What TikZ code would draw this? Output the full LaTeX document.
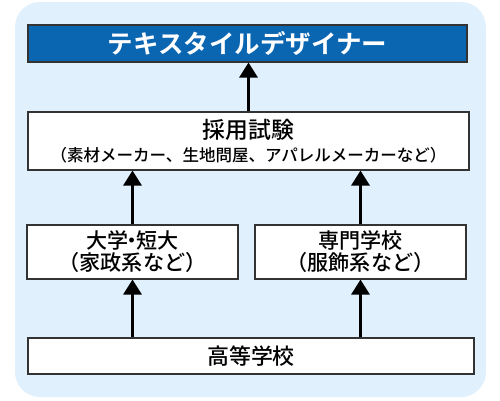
\documentclass[tikz,border=0pt]{standalone}
\usepackage{fontspec}
\setmainfont{Noto Sans CJK JP}[UprightFont={* Medium}, BoldFont={* Bold}]
\usetikzlibrary{arrows.meta}
\definecolor{haikei}{RGB}{224,240,252}
\definecolor{aoi}{RGB}{11,102,178}
\definecolor{waku}{RGB}{51,51,51}

\begin{document}
\begin{tikzpicture}[
		box/.style={draw=waku, line width=0.6pt, fill=white, inner sep=0pt, align=center},
		arr/.style={line width=1.7pt, -{Triangle[width=0.36cm,length=0.3cm]}}
	]
			\useasboundingbox (0,0) rectangle (10,-8);
			\fill[haikei, rounded corners=0.5cm] (0.30,-0.04) rectangle (9.72,-7.94);
			% boxes
			\node[box, fill=aoi, text=white, font=\fontsize{14.5}{16}\selectfont\bfseries,
				minimum width=8.78cm, minimum height=0.74cm] (designer) at (4.95,-0.87) {テキスタイルデザイナー};
			\node[box, font=\fontsize{13}{14}\selectfont, minimum width=8.82cm, minimum height=1.16cm] (shiken) at (4.97,-2.82)
				{採用試験\\[-1pt]{\fontsize{9.4}{11}\selectfont （素材メーカー、生地問屋、アパレルメーカーなど）}};
			\node[box, font=\fontsize{12}{12.5}\selectfont, minimum width=4.22cm, minimum height=1.08cm] (daigaku) at (2.65,-5.04)
				{大学\kern-0.3em・\kern-0.3em短大\\（家政系など）};
			\node[box, font=\fontsize{12}{12.5}\selectfont, minimum width=4.22cm, minimum height=1.08cm] (senmon) at (7.21,-5.04)
				{専門学校\\（服飾系など）};
			\node[box, font=\fontsize{12.5}{14}\selectfont, minimum width=8.92cm, minimum height=0.72cm] (koukou) at (5.02,-7.12)
				{高等学校};
			% arrows
			\draw[arr] (shiken.north) -- (shiken.north |- designer.south);
			\draw[arr] (daigaku.north) -- (daigaku.north |- shiken.south);
			\draw[arr] (senmon.north) -- (senmon.north |- shiken.south);
			\draw[arr] (koukou.north -| daigaku.south) -- (daigaku.south);
			\draw[arr] (koukou.north -| senmon.south) -- (senmon.south);
		\end{tikzpicture}
\end{document}
